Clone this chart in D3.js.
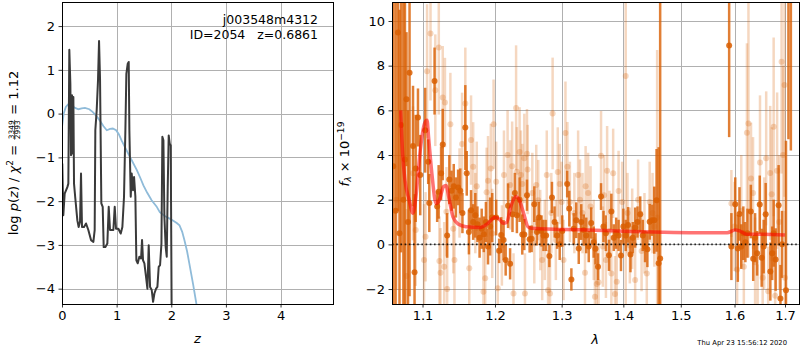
<!DOCTYPE html>
<html>
<head>
<meta charset="utf-8">
<script src="https://cdn.jsdelivr.net/npm/d3@7"></script>
<style>
  body { margin: 0; background: #fff; }
  text { font-family: "DejaVu Sans", sans-serif; }
</style>
</head>
<body>
<svg id="chart" width="800" height="350"></svg>
<script>
const zTicks = [0, 1, 2, 3, 4]
const logpTicks = [2, 1, 0, -1, -2, -3, -4]
const waveTicks = [1.1, 1.2, 1.3, 1.4, 1.5, 1.6, 1.7]
const fluxTicks = [-2, 0, 2, 4, 6, 8, 10]

// log p(z) (black) and prior (blue)
const pzZ = [0.005, 0.024, 0.049, 0.098, 0.116, 0.134, 0.153, 0.165, 0.183, 0.195, 0.208, 0.220, 0.244, 0.281, 0.305, 0.330, 0.348, 0.366, 0.403, 0.440,
  0.482, 0.531, 0.574, 0.598, 0.610, 0.635, 0.659, 0.678, 0.696, 0.720, 0.745, 0.763, 0.794, 0.830, 0.855, 0.879, 0.910, 0.940, 0.965, 0.989,
  1.032, 1.075, 1.105, 1.135, 1.160, 1.178, 1.203, 1.221, 1.233, 1.258, 1.276, 1.300, 1.319, 1.343, 1.361, 1.386, 1.416, 1.447, 1.465, 1.483,
  1.508, 1.538, 1.563, 1.587, 1.612, 1.642, 1.667, 1.691, 1.722, 1.746, 1.770, 1.795, 1.820, 1.837, 1.856, 1.874, 1.898, 1.917, 1.935, 1.953,
  1.972, 1.990, 2.008, 2.015]
const pzLog = [-1.14, -2.32, -1.83, -1.68, -1.60, 1.46, 0.68, -0.95, 0.42, -0.91, 0.38, -1.60, -1.94, -2.44, -2.59, -2.47, -1.37, -2.59, -2.59, -2.51,
  -2.66, -2.89, -2.93, -2.66, -0.38, 0.08, 0.76, 1.66, 0.80, -2.05, -2.13, -3.05, -3.05, -2.97, -2.13, -2.66, -2.66, -2.66, -2.13, -2.63,
  -2.63, -2.74, -2.59, -1.90, -0.38, 0.91, 1.14, 1.18, -0.38, -1.90, -1.37, -1.75, -1.45, -1.90, -3.35, -3.42, -3.27, -3.31, -2.89, -3.35,
  -3.42, -3.73, -4.00, -3.01, -3.96, -4.03, -4.30, -4.11, -4.00, -3.96, -3.50, -3.46, -2.97, -0.53, -0.61, -2.36, -3.05, -3.27, -1.68, -0.50,
  -0.69, -0.73, -4.80, -6.00]
const priorZ = [0.00, 0.03, 0.07, 0.11, 0.17, 0.24, 0.30, 0.36, 0.42, 0.50, 0.56, 0.62, 0.67, 0.71, 0.76, 0.82, 0.88, 0.93, 0.99, 1.04,
  1.09, 1.15, 1.21, 1.29, 1.37, 1.43, 1.49, 1.56, 1.64, 1.73, 1.79, 1.85, 1.91, 1.97, 2.03, 2.10, 2.15, 2.20, 2.24, 2.29,
  2.33, 2.40, 2.46, 2.52, 2.60]
const priorLog = [-0.31, 0.00, 0.15, 0.21, 0.19, 0.13, 0.10, 0.12, 0.13, 0.10, 0.04, -0.04, -0.12, -0.19, -0.29, -0.38, -0.35, -0.34, -0.38, -0.47,
  -0.61, -0.76, -0.91, -1.10, -1.29, -1.46, -1.64, -1.81, -1.98, -2.12, -2.25, -2.31, -2.36, -2.40, -2.44, -2.50, -2.55, -2.70, -2.89, -3.15,
  -3.42, -3.90, -4.35, -4.80, -5.40]

// spectrum, strong points
const darkWave = [1.062, 1.065, 1.068, 1.070, 1.072, 1.075, 1.077, 1.079, 1.081, 1.083, 1.0875, 1.0895, 1.091, 1.094, 1.097, 1.1035, 1.1075, 1.109, 1.116, 1.1195,
  1.1215, 1.1248, 1.127, 1.133, 1.136, 1.139, 1.142, 1.145, 1.148, 1.151, 1.154, 1.158, 1.160, 1.163, 1.166, 1.169, 1.172, 1.175, 1.178, 1.181,
  1.184, 1.187, 1.190, 1.193, 1.196, 1.2017, 1.206, 1.209, 1.2125, 1.2155, 1.219, 1.222, 1.2255, 1.229, 1.232, 1.236, 1.240, 1.243, 1.247, 1.251,
  1.254, 1.258, 1.262, 1.265, 1.269, 1.272, 1.276, 1.281, 1.285, 1.289, 1.293, 1.297, 1.301, 1.3087, 1.312, 1.3153, 1.319, 1.323, 1.327, 1.331,
  1.335, 1.339, 1.343, 1.347, 1.351, 1.354, 1.358, 1.363, 1.367, 1.371, 1.376, 1.380, 1.384, 1.388, 1.392, 1.396, 1.400, 1.404, 1.408, 1.412,
  1.416, 1.420, 1.424, 1.4287, 1.433, 1.437, 1.441, 1.445, 1.449, 1.453, 1.457, 1.4606, 1.4633,
  1.5897, 1.594, 1.6014, 1.6063, 1.6095, 1.613, 1.617, 1.621, 1.625, 1.6316, 1.6363, 1.640, 1.644, 1.6492, 1.653, 1.657, 1.661, 1.6703, 1.674, 1.677,
  1.681, 1.687, 1.6907, 1.694, 1.702, 1.707, 1.712]
const darkFlux = [3.5, 1.5, 9.48, 0.5, 5.34, 2.0, 3.8, 6.5, 1.0, 7.68, 4.4, -1.25, 3.4, 5.68, 3.1, 5.11, 3.7, 1.85, 7.31, 1.7,
  2.35, 3.18, 4.47, 0.4, 2.9, 2.4, 2.6, 2.1, 2.55, 2.4, 1.4, 5.23, 3.18, 0.55, 1.53, 1.0, 1.3, 0.9, 0.3, 0.7,
  0.45, 1.0, -0.1, 0.8, 1.2, 1.2, -0.29, 0.42, 0.19, -0.7, 1.73, -0.87, 1.35, 2.3, 1.3, 2.0, 0.44, 0.44, 2.2, 0.23,
  0.25, 1.8, 0.55, 1.2, 0.6, 0.4, 0.4, -0.52, 2.1, 1.0, 0.4, 0.0, 0.6, 2.7, 1.6, -1.57, 0.7, 1.08, -0.18, 1.0,
  0.64, 0.4, -0.1, 0.96, 0.1, -0.2, -1.0, 2.14, 0.8, 0.5, -0.49, 1.47, 0.3, 0.5, 0.4, -0.5, 0.8, 0.4, 0.87, -0.45,
  0.3, 0.75, 1.0, 1.35, 0.4, -0.1, -0.22, 1.01, 1.08, 1.08, 1.97, -0.85, -0.63,
  8.9, -0.1, 1.8, -0.18, 1.36, -0.1, 0.5, 0.1, 0.5, 1.47, -0.64, 0.3, -0.4, 1.78, -0.6, -0.1, 1.35, -1.22, -0.4, 0.5,
  -0.68, 1.75, -2.42, 0.0, -2.06, 12.0, 13.0]
const darkErr = [12, 12, 8, 10, 5.7, 9, 7, 3, 5, 10, 2.7, 3.5, 2.4, 1.3, 1.8, 1.9, 1.0, 1.3, 1.5, 0.7,
  1.2, 1.2, 1.6, 1.0, 1.1, 0.9, 1.0, 0.9, 0.8, 1.0, 0.9, 1.9, 1.0, 1.0, 0.9, 0.8, 1.0, 0.8, 0.9, 0.9,
  0.8, 0.9, 0.8, 1.3, 1.1, 0.8, 0.55, 0.8, 0.9, 0.7, 1.0, 0.7, 0.8, 0.9, 0.8, 1.0, 0.9, 0.7, 0.7, 0.6,
  0.6, 0.8, 0.6, 0.7, 0.7, 0.7, 0.7, 0.5, 0.7, 0.7, 0.6, 0.7, 0.7, 0.6, 0.8, 0.5, 0.7, 0.8, 0.7, 0.8,
  0.7, 0.8, 0.7, 0.7, 0.7, 0.7, 0.6, 0.6, 0.7, 0.8, 0.7, 0.8, 0.6, 0.7, 0.7, 0.7, 0.8, 0.7, 0.8, 0.8,
  0.7, 0.9, 0.7, 0.8, 0.7, 0.7, 0.8, 0.8, 0.7, 1.5, 2.3, 5.2, 12,
  4.1, 1.5, 1.2, 1.5, 1.2, 1.0, 1.2, 0.9, 1.1, 1.2, 1.0, 1.1, 1.0, 1.3, 1.3, 1.2, 1.4, 1.3, 1.2, 1.5,
  1.4, 1.8, 1.5, 1.5, 6.7, 7.3, 8.8]

// spectrum, weak points
const lightWave = [1.066, 1.079, 1.0875, 1.091, 1.102, 1.104, 1.106, 1.1106, 1.117, 1.1217, 1.1225, 1.124, 1.127, 1.129, 1.130, 1.132, 1.133, 1.1374, 1.1414, 1.143,
  1.150, 1.1535, 1.158, 1.1635, 1.166, 1.169, 1.172, 1.174, 1.1835, 1.186, 1.188, 1.190, 1.194, 1.196, 1.198, 1.2017, 1.204, 1.210, 1.213, 1.2183,
  1.222, 1.225, 1.227, 1.2308, 1.232, 1.236, 1.238, 1.240, 1.243, 1.244, 1.247, 1.248, 1.255, 1.258, 1.261, 1.264, 1.267, 1.270, 1.274, 1.277,
  1.279, 1.282, 1.284, 1.286, 1.291, 1.294, 1.297, 1.300, 1.303, 1.306, 1.309, 1.313, 1.320, 1.326, 1.329, 1.333, 1.337, 1.338, 1.342, 1.346,
  1.351, 1.353, 1.356, 1.359, 1.363, 1.366, 1.368, 1.371, 1.373, 1.377, 1.380, 1.383, 1.386, 1.389, 1.392, 1.398, 1.404, 1.407, 1.411, 1.415,
  1.420, 1.425, 1.431, 1.436, 1.440, 1.445, 1.450, 1.453, 1.458,
  1.594, 1.600, 1.605, 1.613, 1.618, 1.624, 1.627, 1.632, 1.636, 1.640, 1.645, 1.6497, 1.655, 1.658, 1.662, 1.666, 1.670, 1.673, 1.677, 1.680,
  1.684, 1.688, 1.693, 1.696, 1.699, 1.700]
const lightFlux = [2.0, -1.42, 3.18, 0.64, -0.7, 0.34, 7.75, 9.44, 6.9, 8.81, -0.75, -1.27, 6.58, -1.0, 6.35, 1.46, -2.0, 5.38, 0.7, -0.7,
  2.3, 4.49, 6.31, -1.07, 4.67, 3.47, 1.4, 2.6, -2.12, -1.52, 2.33, 2.85, 3.4, 0.49, 5.38, 2.8, -1.97, -0.05, 3.1, 4.0,
  2.66, 3.5, -2.2, 6.11, 3.25, 4.14, 3.1, 2.7, 3.85, -2.2, 4.06, 3.35, 2.3, 0.05, 2.66, 1.98, 0.64, -0.7, 0.2, 3.1,
  -2.05, -2.2, 1.4, 5.86, 0.2, 3.24, 2.7, 1.9, -0.7, 4.99, 3.48, 1.9, 1.4, 3.1, 2.0, 1.4, -1.27, 2.6, 2.3, 1.7,
  0.2, -2.34, -1.77, -1.7, 3.97, -0.1, 2.2, -0.7, 3.3, 0.6, -1.3, 3.18, -2.22, -1.67, 2.39, 1.9, 7.54, 1.4, -0.05, 0.7,
  -1.6, 2.0, -0.3, 0.5, -1.3, 1.9, 1.4, 0.8, 1.2,
  1.83, 0.8, -1.12, 1.5, -1.0, 5.0, 5.41, 2.95, 2.3, -0.8, -2.9, 3.67, -1.5, 0.5, 3.85, -2.1, 3.2, 2.24, 5.26, -2.3,
  3.3, 1.0, 8.17, 4.0, 7.13, -1.5]
const lightErr = [4, 3, 3, 2.5, 2.5, 2, 3, 3, 2.5, 3, 2, 2, 2.3, 2, 2, 2, 2, 2.3, 2, 2,
  2, 2.3, 2.5, 2, 2, 2, 1.8, 2, 2, 1.8, 2, 2, 2, 2, 2, 1.8, 1.8, 1.8, 2, 2,
  2, 2, 1.8, 2.8, 2, 2, 2, 1.8, 2, 1.8, 2, 2, 1.8, 1.8, 1.8, 1.8, 1.8, 1.8, 1.8, 2,
  1.8, 1.6, 1.8, 2.5, 1.8, 2, 1.8, 1.8, 1.8, 2.3, 2, 1.8, 1.8, 2, 1.8, 1.8, 1.7, 1.8, 1.8, 1.8,
  1.8, 1.7, 1.7, 1.7, 2, 1.8, 1.8, 1.7, 2, 1.8, 1.7, 2, 1.7, 1.7, 1.8, 1.8, 11, 1.8, 1.7, 1.8,
  1.7, 1.8, 1.8, 1.8, 1.7, 1.8, 1.8, 1.8, 7.5,
  1.5, 2, 2, 2.5, 2, 4, 6, 2.5, 2.5, 2, 2, 3, 2, 2.5, 3, 2, 3, 3, 4, 2,
  3.5, 3, 5, 4, 5, 3]

// best-fit model
const modelWave = [1.0715, 1.074, 1.077, 1.0825, 1.0874, 1.0913, 1.097, 1.1026, 1.106, 1.108, 1.1124, 1.118, 1.1225, 1.128, 1.1313, 1.136, 1.141, 1.148, 1.1589, 1.179,
  1.1898, 1.200, 1.2075, 1.212, 1.2168, 1.2237, 1.2308, 1.2356, 1.242, 1.2485, 1.254, 1.303, 1.354, 1.411, 1.468, 1.526, 1.586, 1.601, 1.610, 1.623,
  1.6517, 1.700]
const modelFlux = [6.0, 4.07, 2.88, 1.98, 1.39, 2.13, 4.22, 5.41, 5.56, 4.81, 3.18, 1.83, 1.98, 2.58, 2.64, 1.98, 1.23, 0.91, 0.79, 0.76,
  0.94, 1.21, 1.09, 0.94, 0.98, 1.76, 2.13, 1.98, 1.39, 0.79, 0.72, 0.67, 0.63, 0.58, 0.54, 0.52, 0.52, 0.64, 0.60, 0.45,
  0.45, 0.42]

const fontSize = 13
const orange = '#d95f02'

const svg = d3.select('#chart')
const left = { x0: 62, x1: 333, y0: 2, y1: 304 }
const right = { x0: 392, x1: 799, y0: 2, y1: 304 }

const zScale = d3.scaleLinear().domain([0, 4.96]).range([left.x0, left.x1])
const pScale = d3.scaleLinear().domain([-4.35, 2.55]).range([left.y1, left.y0])
const waveScale = d3.scaleLog().domain([1.0604, 1.7288]).range([right.x0, right.x1])
const fluxScale = d3.scaleLinear().domain([-2.67, 10.85]).range([right.y1, right.y0])

const defs = svg.append('defs')
function clip(id, box) {
	defs.append('clipPath').attr('id', id).append('rect')
		.attr('x', box.x0).attr('y', box.y0).attr('width', box.x1 - box.x0).attr('height', box.y1 - box.y0)
	return svg.append('g').attr('clip-path', `url(#${id})`)
}

function grid(g, box, xs, xTicks, ys, yTicks) {
	g.selectAll('line.gx').data(xTicks).enter().append('line')
		.attr('x1', d => Math.round(xs(d)) + 0.5).attr('x2', d => Math.round(xs(d)) + 0.5)
		.attr('y1', box.y0).attr('y2', box.y1)
		.attr('stroke', '#b0b0b0').attr('stroke-width', 1)
	g.selectAll('line.gy').data(yTicks).enter().append('line')
		.attr('y1', d => Math.round(ys(d)) + 0.5).attr('y2', d => Math.round(ys(d)) + 0.5)
		.attr('x1', box.x0).attr('x2', box.x1)
		.attr('stroke', '#b0b0b0').attr('stroke-width', 1)
}

function styleAxis(g) {
	g.select('.domain').remove()
	g.attr('font-family', '"DejaVu Sans", sans-serif').attr('font-size', fontSize)
	g.selectAll('text').attr('fill', '#000')
	g.selectAll('line').attr('stroke', '#000').attr('stroke-width', 0.8)
}

function frame(box) {
	svg.append('rect').attr('x', box.x0 + 0.5).attr('y', box.y0 + 0.5)
		.attr('width', box.x1 - box.x0).attr('height', box.y1 - box.y0)
		.attr('fill', 'none').attr('stroke', '#000').attr('stroke-width', 1)
}

function mathLabel(parent, parts, size) {
	const g = parent.append('g')
	let x = 0
	parts.forEach(p => {
		if (p.frac) {
			const fs = size * 0.57
			const num = g.append('text').attr('font-size', fs).attr('text-anchor', 'middle').text(p.frac[0])
			const den = g.append('text').attr('font-size', fs).attr('text-anchor', 'middle').text(p.frac[1])
			const w = Math.max(num.node().getComputedTextLength(), den.node().getComputedTextLength()) + 1
			num.attr('x', x + 1 + w / 2).attr('y', -size * 0.29)
			den.attr('x', x + 1 + w / 2).attr('y', size * 0.2)
			g.append('line').attr('x1', x + 1).attr('x2', x + 1 + w)
				.attr('y1', -size * 0.22).attr('y2', -size * 0.22)
				.attr('stroke', '#000').attr('stroke-width', 0.6)
			x += w + 2
			return
		}
		const small = p.sup || p.sub
		const t = g.append('text').attr('x', x)
			.attr('y', p.sup ? -size * 0.38 : p.sub ? size * 0.18 : 0)
			.attr('font-size', small ? size * 0.7 : size)
			.style('font-style', p.it ? 'italic' : 'normal')
			.style('white-space', 'pre')
			.text(p.t)
		x += t.node().getComputedTextLength()
	})
	g.attr('transform', `translate(${-x / 2},0)`)
}

// ---- left panel: p(z)
const leftG = clip('clipL', left)
grid(leftG, left, zScale, zTicks, pScale, logpTicks)

const zLine = d3.line().x(d => zScale(d[0])).y(d => pScale(d[1]))
leftG.append('path').datum(d3.zip(priorZ, priorLog)).attr('d', zLine)
	.attr('fill', 'none').attr('stroke', '#8fbbd9').attr('stroke-width', 1.8)
leftG.append('path').datum(d3.zip(pzZ, pzLog)).attr('d', zLine)
	.attr('fill', 'none').attr('stroke', '#3a3a3a').attr('stroke-width', 2).attr('stroke-linejoin', 'round')

svg.append('g').attr('transform', `translate(0,${left.y1})`)
	.call(d3.axisBottom(zScale).tickValues(zTicks).tickFormat(d3.format('d')).tickSize(3.5).tickPadding(3.5))
	.call(styleAxis)
svg.append('g').attr('transform', `translate(${left.x0},0)`)
	.call(d3.axisLeft(pScale).tickValues(logpTicks).tickFormat(d3.format('d')).tickSize(3.5).tickPadding(3.5))
	.call(styleAxis)
frame(left)

svg.append('text').attr('x', 318).attr('y', 24).attr('text-anchor', 'end').attr('font-size', 12.5)
	.text('j003548m4312')
svg.append('text').attr('x', 318).attr('y', 39).attr('text-anchor', 'end').attr('font-size', 12.5)
	.style('white-space', 'pre').text('ID=2054   z=0.6861')

svg.append('text').attr('x', (left.x0 + left.x1) / 2).attr('y', 343).attr('text-anchor', 'middle')
	.attr('font-size', fontSize).style('font-style', 'italic').text('z')

mathLabel(svg.append('g').attr('transform', 'translate(17.5,153) rotate(-90)'), [
	{ t: 'log ' }, { t: 'p', it: true }, { t: '(' }, { t: 'z', it: true }, { t: ') / ' },
	{ t: 'χ', it: true }, { t: '2', sup: true }, { t: ' = ' }, { frac: ['3349', '2993'] }, { t: ' = 1.12' }
], fontSize)

// ---- right panel: spectrum
const rightG = clip('clipR', right)
grid(rightG, right, waveScale, waveTicks, fluxScale, fluxTicks)

const light = d3.zip(lightWave, lightFlux, lightErr)
const dark = d3.zip(darkWave, darkFlux, darkErr)

rightG.append('g').selectAll('line').data(light).enter().append('line')
	.attr('x1', d => waveScale(d[0])).attr('x2', d => waveScale(d[0]))
	.attr('y1', d => fluxScale(d[1] - d[2])).attr('y2', d => fluxScale(d[1] + d[2]))
	.attr('stroke', orange).attr('stroke-opacity', 0.25).attr('stroke-width', 2.5)
rightG.append('g').selectAll('circle').data(light).enter().append('circle')
	.attr('cx', d => waveScale(d[0])).attr('cy', d => fluxScale(d[1])).attr('r', 3)
	.attr('fill', orange).attr('fill-opacity', 0.25)

rightG.append('g').selectAll('line').data(dark).enter().append('line')
	.attr('x1', d => waveScale(d[0])).attr('x2', d => waveScale(d[0]))
	.attr('y1', d => fluxScale(d[1] - d[2])).attr('y2', d => fluxScale(d[1] + d[2]))
	.attr('stroke', orange).attr('stroke-opacity', 0.8).attr('stroke-width', 2.5)
rightG.append('g').selectAll('circle').data(dark).enter().append('circle')
	.attr('cx', d => waveScale(d[0])).attr('cy', d => fluxScale(d[1])).attr('r', 3)
	.attr('fill', orange).attr('fill-opacity', 0.85)

rightG.append('line').attr('x1', right.x0).attr('x2', right.x1)
	.attr('y1', fluxScale(0)).attr('y2', fluxScale(0))
	.attr('stroke', '#000').attr('stroke-width', 1.6).attr('stroke-dasharray', '1.6,2.6').attr('opacity', 0.8)

const mLine = d3.line().x(d => waveScale(d[0])).y(d => fluxScale(d[1])).curve(d3.curveMonotoneX)
rightG.append('path').datum(d3.zip(modelWave, modelFlux)).attr('d', mLine)
	.attr('fill', 'none').attr('stroke', '#ff0000').attr('stroke-opacity', 0.55).attr('stroke-width', 3.5)
	.attr('stroke-linejoin', 'round')

svg.append('g').attr('transform', `translate(0,${right.y1})`)
	.call(d3.axisBottom(waveScale).tickValues(waveTicks).tickFormat(d3.format('.1f')).tickSize(3.5).tickPadding(3.5))
	.call(styleAxis)
svg.append('g').attr('transform', `translate(${right.x0},0)`)
	.call(d3.axisLeft(fluxScale).tickValues(fluxTicks).tickFormat(d3.format('d')).tickSize(3.5).tickPadding(3.5))
	.call(styleAxis)
frame(right)

svg.append('text').attr('x', 595).attr('y', 344).attr('text-anchor', 'middle')
	.attr('font-size', fontSize).style('font-style', 'italic').text('λ')

mathLabel(svg.append('g').attr('transform', 'translate(349,154) rotate(-90)'), [
	{ t: 'f', it: true }, { t: 'λ', it: true, sub: true }, { t: ' × 10' }, { t: '−19', sup: true }
], fontSize)

svg.append('text').attr('x', 787).attr('y', 345).attr('text-anchor', 'end').attr('font-size', 6.8)
	.text('Thu Apr 23 15:56:12 2020')
</script>
</body>
</html>
